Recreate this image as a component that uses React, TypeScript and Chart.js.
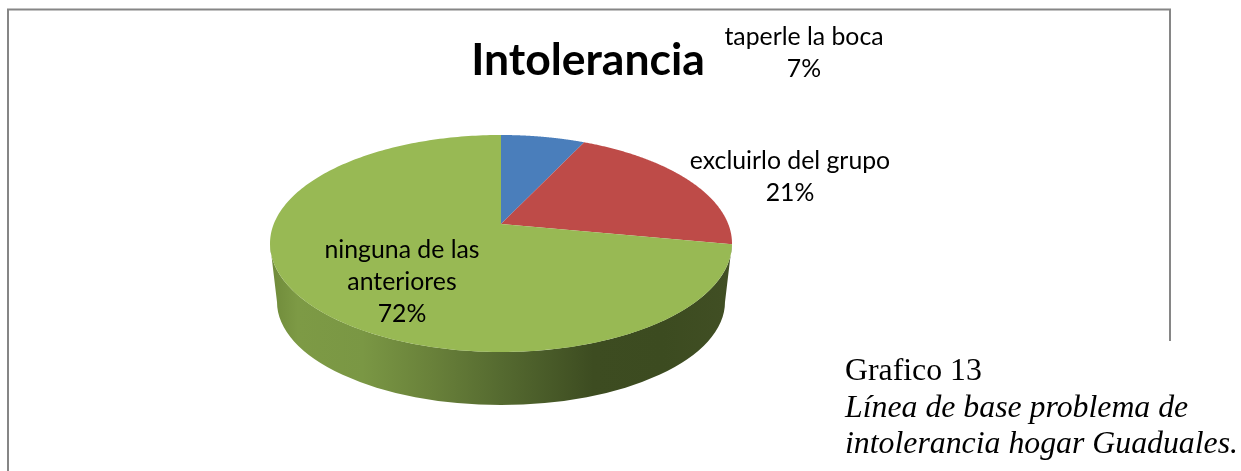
import React, { useEffect, useRef } from "react";
import { Chart, registerables } from "chart.js";

Chart.register(...registerables);

const titleText = "Intolerancia";
const categories = ["taperle la boca", "excluirlo del grupo", "ninguna de las anteriores"];
const values = [7, 21, 72];
const sliceColors = ["#4A7EBB", "#BE4B48", "#98B954"];
const labelLines = [["taperle la boca"], ["excluirlo del grupo"], ["ninguna de las", "anteriores"]];
const labelCentres = [
  { x: 804, y: 37, step: 32.5 },
  { x: 790, y: 161, step: 32 },
  { x: 402, y: 250.5, step: 32 },
];
const captionPlain = "Grafico 13";
const captionItalic = ["Línea de base problema de", "intolerancia hogar Guaduales."];

const STRETCH = 231 / 108.5; // horizontal widening of the library's circle
const APEX_SHIFT = 0.18; // perspective: how far the apex lies behind the ellipse centre
const DEPTH_DROP = 58.5;
const BOTTOM_RX_SCALE = 224 / 231;
const BOTTOM_RY_SCALE = 103 / 108.5;

const project = (cx: number, cy: number, r: number, angle: number, k: number) => {
  const u = Math.cos(angle) * k;
  const v = -Math.sin(angle) * k;
  const d = 1 + APEX_SHIFT * v;
  const vp = (v + APEX_SHIFT) / d;
  const up = (u * Math.sqrt(1 - APEX_SHIFT * APEX_SHIFT)) / d;
  return { x: cx + r * STRETCH * up, y: cy - r * vp };
};

const pie3d = {
  id: "pie3d",
  beforeDraw(chart: any) {
    const { ctx } = chart;
    ctx.save();
    ctx.fillStyle = "#ffffff";
    ctx.fillRect(0, 0, chart.width, chart.height);
    ctx.strokeStyle = "#868686";
    ctx.lineWidth = 2;
    ctx.beginPath();
    ctx.moveTo(8, 471);
    ctx.lineTo(8, 9.5);
    ctx.moveTo(7, 9.5);
    ctx.lineTo(1171, 9.5);
    ctx.moveTo(1170, 9);
    ctx.lineTo(1170, 341);
    ctx.stroke();
    ctx.restore();
  },
  beforeDatasetDraw(chart: any, args: any) {
    const { ctx } = chart;
    const arcs = chart.getDatasetMeta(args.index).data;
    const { x: cx, y: cy, outerRadius: r } = arcs[0];
    const rx = r * STRETCH;
    const left = cx - rx;
    const right = cx + rx;

    const wall = ctx.createLinearGradient(left, 0, right, 0);
    wall.addColorStop(0, "#6F8A3A");
    wall.addColorStop(0.06, "#7D9A45");
    wall.addColorStop(0.2, "#7A9744");
    wall.addColorStop(0.35, "#69813A");
    wall.addColorStop(0.5, "#556A30");
    wall.addColorStop(0.7, "#3D4C21");
    wall.addColorStop(0.85, "#3C4B20");
    wall.addColorStop(1, "#414F24");
    ctx.save();
    ctx.fillStyle = wall;
    ctx.beginPath();
    ctx.ellipse(cx, cy, rx, r, 0, 0, Math.PI, false);
    ctx.ellipse(cx, cy + DEPTH_DROP, rx * BOTTOM_RX_SCALE, r * BOTTOM_RY_SCALE, 0, Math.PI, 0, true);
    ctx.closePath();
    ctx.fill();

    arcs.forEach((arc: any) => {
      const { startAngle, endAngle } = arc;
      const steps = 240;
      ctx.beginPath();
      const apex = project(cx, cy, r, 0, 0);
      ctx.moveTo(apex.x, apex.y);
      for (let i = 0; i <= steps; i++) {
        const p = project(cx, cy, r, startAngle + ((endAngle - startAngle) * i) / steps, 1);
        ctx.lineTo(p.x, p.y);
      }
      ctx.closePath();
      ctx.fillStyle = arc.options.backgroundColor;
      ctx.fill();
    });
    ctx.restore();
    return false;
  },
  afterDraw(chart: any) {
    const { ctx } = chart;
    const total = values.reduce((a, b) => a + b, 0);
    ctx.save();
    ctx.fillStyle = "#000000";
    ctx.textAlign = "center";
    ctx.textBaseline = "middle";
    ctx.font = "bold 44.5px Lato";
    ctx.fillText(titleText, 588, 61);
    ctx.font = "24.8px Lato";
    labelLines.forEach((lines, i) => {
      const pos = labelCentres[i];
      const all = [...lines, `${Math.round((values[i] / total) * 100)}%`];
      all.forEach((line, j) => ctx.fillText(line, pos.x, pos.y + j * pos.step));
    });
    ctx.restore();
  },
};

export default function App() {
  const ref = useRef<HTMLCanvasElement | null>(null);
  useEffect(() => {
    const chart = new Chart(ref.current as HTMLCanvasElement, {
      type: "pie",
      data: {
        labels: categories,
        datasets: [{ data: values, backgroundColor: sliceColors, borderWidth: 0 }],
      },
      options: {
        animation: false,
        responsive: false,
        events: [],
        layout: { padding: { left: 270, right: 509, top: 135, bottom: 119 } },
        plugins: { legend: { display: false }, title: { display: false }, tooltip: { enabled: false } },
      },
      plugins: [pie3d],
    } as any);
    return () => chart.destroy();
  }, []);
  const captionStyle: React.CSSProperties = {
    position: "absolute",
    left: 845,
    top: 352,
    width: 396,
    fontFamily: '"Liberation Serif", serif',
    fontSize: 31.8,
    lineHeight: "36.5px",
    color: "#000",
    whiteSpace: "nowrap",
  };
  return (
    <div style={{ position: "absolute", left: 0, top: 0, width: 1241, height: 471, overflow: "hidden", background: "#fff" }}>
      <canvas ref={ref} width={1241} height={471} style={{ display: "block" }} />
      <div style={captionStyle}>
        <div>{captionPlain}</div>
        {captionItalic.map((t) => (
          <div key={t} style={{ fontStyle: "italic" }}>{t}</div>
        ))}
      </div>
    </div>
  );
}
